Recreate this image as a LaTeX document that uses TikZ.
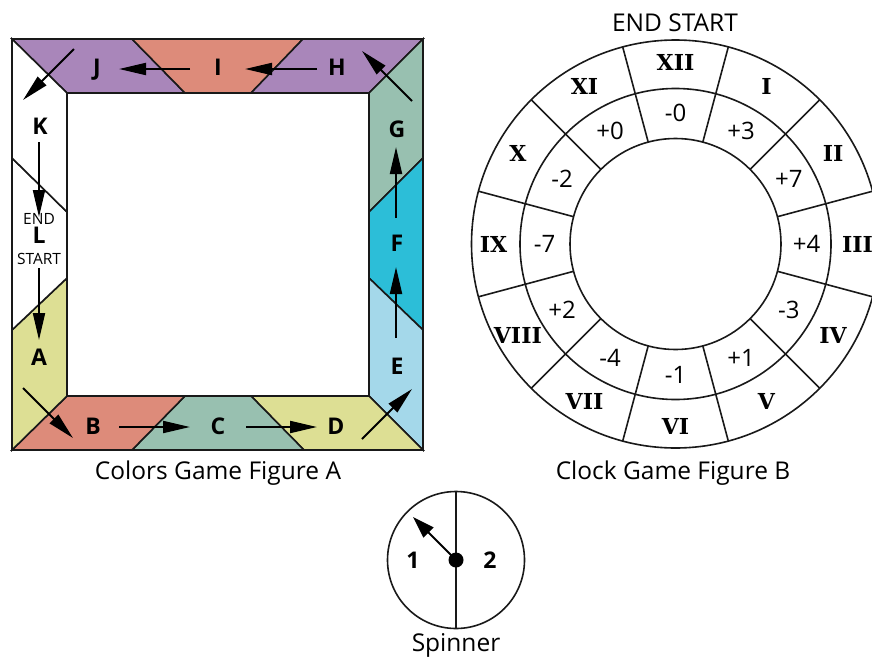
\documentclass[tikz,border=0pt]{standalone}
\usepackage{fontspec}
\setmainfont{Open Sans}
\newfontfamily\romanfont{DejaVu Serif}
\usetikzlibrary{arrows.meta,calc}
\definecolor{cpurple}{RGB}{169,134,186}
\definecolor{csalmon}{RGB}{221,139,122}
\definecolor{cgreen}{RGB}{152,192,176}
\definecolor{cyellow}{RGB}{221,223,148}
\definecolor{ccyan}{RGB}{44,190,216}
\definecolor{clblue}{RGB}{164,216,234}
\definecolor{cline}{RGB}{25,25,25}
\begin{document}
\begin{tikzpicture}[x=1pt,y=-1pt,
  tile/.style={draw=cline, line width=1.6pt, line join=miter},
  mv/.style={line width=2pt, -{Triangle[length=27pt,width=12pt]}},
  spinarrow/.style={line width=2pt, -{Triangle[length=22pt,width=14pt]}},
  biglab/.style={anchor=base, inner sep=0pt, font=\fontsize{23}{23}\selectfont\bfseries},
  smalllab/.style={anchor=base, inner sep=0pt, font=\fontsize{15.5}{15.5}\selectfont},
  caption/.style={anchor=base, inner sep=0pt, font=\fontsize{24.5}{24.5}\selectfont},
  romanlab/.style={inner sep=0pt, font=\fontsize{22}{22}\romanfont\bfseries},
  numlab/.style={inner sep=0pt, font=\fontsize{24}{24}\selectfont},
  ring/.style={draw=cline, line width=1.6pt}
]
\path[use as bounding box, clip] (0,0) rectangle (872,656);
\fill[white] (0,0) rectangle (872,656);

% ---------------- Colors game board ----------------
% top strip
\filldraw[tile, fill=cpurple] (12,39) -- (132,39) -- (185,93) -- (67,93) -- cycle;
\filldraw[tile, fill=csalmon] (132,39) -- (303,39) -- (251,93) -- (185,93) -- cycle;
\filldraw[tile, fill=cpurple] (303,39) -- (423,39) -- (369,93) -- (251,93) -- cycle;
% right strip
\filldraw[tile, fill=cgreen] (423,39) -- (423,158) -- (369,212) -- (369,93) -- cycle;
\filldraw[tile, fill=ccyan] (423,158) -- (423,330) -- (369,278) -- (369,212) -- cycle;
\filldraw[tile, fill=clblue] (423,330) -- (423,450) -- (369,396) -- (369,278) -- cycle;
% bottom strip
\filldraw[tile, fill=cyellow] (423,450) -- (304,450) -- (251,396) -- (369,396) -- cycle;
\filldraw[tile, fill=cgreen] (304,450) -- (132,450) -- (185,396) -- (251,396) -- cycle;
\filldraw[tile, fill=csalmon] (132,450) -- (12,450) -- (67,396) -- (185,396) -- cycle;
% left strip
\filldraw[tile, fill=cyellow] (12,450) -- (12,330) -- (67,278) -- (67,396) -- cycle;
\filldraw[tile, fill=white] (12,330) -- (12,158) -- (67,212) -- (67,278) -- cycle;
\filldraw[tile, fill=white] (12,158) -- (12,39) -- (67,93) -- (67,212) -- cycle;

% labels
\node[biglab] (lJ) at (97,75) {J};
\node[biglab] (lI) at (218,75) {I};
\node[biglab] (lH) at (337,75) {H};
\node[biglab] (lK) at (40,134) {K};
\node[smalllab] (lEND) at (39,224) {END};
\node[biglab] (lL) at (39,243.5) {L};
\node[smalllab] (lSTART) at (39,264) {START};
\node[biglab] (lA) at (39,365) {A};
\node[biglab] (lB) at (93,434) {B};
\node[biglab] (lC) at (218,434) {C};
\node[biglab] (lD) at (336,434) {D};
\node[biglab] (lE) at (397,374) {E};
\node[biglab] (lF) at (397,251) {F};
\node[biglab] (lG) at (397,137) {G};

% arrow end points
\coordinate (hI1) at (190,69);   \coordinate (hI2) at (119,69);
\coordinate (hH1) at (317,69);   \coordinate (hH2) at (245,69);
\coordinate (hJ1) at (74,49);    \coordinate (hJ2) at (23,100);
\coordinate (hK1) at (39,142);   \coordinate (hK2) at (39,217);
\coordinate (hL1) at (39,268);   \coordinate (hL2) at (39,340);
\coordinate (hA1) at (23,388);   \coordinate (hA2) at (73,438);
\coordinate (hB1) at (119,427);  \coordinate (hB2) at (190,427);
\coordinate (hC1) at (246,427);  \coordinate (hC2) at (317,427);
\coordinate (hD1) at (362,439);  \coordinate (hD2) at (412,389);
\coordinate (hE1) at (396,338);  \coordinate (hE2) at (396,267);
\coordinate (hF1) at (396,218);  \coordinate (hF2) at (396,147);
\coordinate (hG1) at (412,101);  \coordinate (hG2) at (362,51);

\draw[mv] (hI1) -- (hI2);
\draw[mv] (hH1) -- (hH2);
\draw[mv] (hJ1) -- (hJ2);
\draw[mv] (hK1) -- (hK2);
\draw[mv] (hL1) -- (hL2);
\draw[mv] (hA1) -- (hA2);
\draw[mv] (hB1) -- (hB2);
\draw[mv] (hC1) -- (hC2);
\draw[mv] (hD1) -- (hD2);
\draw[mv] (hE1) -- (hE2);
\draw[mv] (hF1) -- (hF2);
\draw[mv] (hG1) -- (hG2);

\node[caption] (capA) at (218,479) {Colors Game Figure A};

% ---------------- Clock game ----------------
\coordinate (cc) at (675.5,244);
\draw[ring] (cc) circle[radius=204];
\draw[ring] (cc) circle[radius=155.5];
\draw[ring] (cc) circle[radius=105.5];
\foreach \k in {0,...,11}{
  \draw[ring] ($(cc)+({15+30*\k}:105.5 and -105.5)$) -- ($(cc)+({15+30*\k}:204 and -204)$);
}
\foreach \r/\n [count=\i from 0] in {XII/-0, I/+3, II/+7, III/+4, IV/-3, V/+1, VI/-1, VII/-4, VIII/+2, IX/-7, X/-2, XI/+0}{
  \node[romanlab] (rom\i) at ($(cc)+({90-30*\i}:182 and -182)$) {\r};
  \node[numlab] (num\i) at ($(cc)+({90-30*\i}:131 and -131)$) {\n};
}
\node[caption] (endstart) at (675,31) {END START};
\node[caption] (capB) at (673,479) {Clock Game Figure B};

% ---------------- Spinner ----------------
\node[draw=cline, line width=1.6pt, circle, minimum size=137pt, inner sep=0pt] (spin) at (456,560) {};
\draw[line width=1.6pt, cline] (spin.north) -- (spin.south);
\coordinate (sptip) at (413,517);
\draw[spinarrow] (spin.center) -- (sptip);
\fill[black] (spin.center) circle[radius=7.5];
\node[biglab, anchor=center] (s1) at (413,560) {1};
\node[biglab, anchor=center] (s2) at (490,560) {2};
\node[caption] (capS) at (456,651) {Spinner};
\end{tikzpicture}
\end{document}
